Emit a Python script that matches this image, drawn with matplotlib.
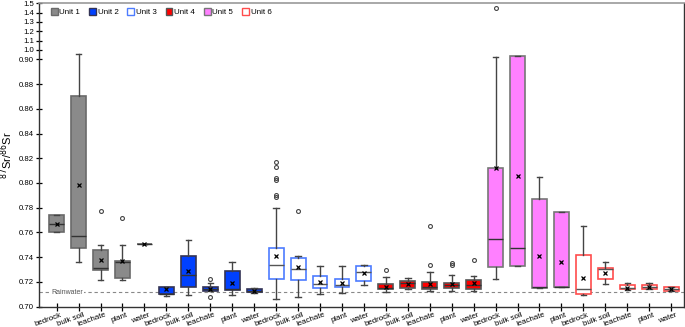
import numpy as np
import matplotlib
matplotlib.use("Agg")
import matplotlib.pyplot as plt
import matplotlib.transforms as mtransforms
from matplotlib.patches import Patch

plt.rcParams['font.family'] = ['Liberation Sans', 'DejaVu Sans']

# Data (one entry per box, left to right)
units = ['Unit 1', 'Unit 2', 'Unit 3', 'Unit 4', 'Unit 5', 'Unit 6']
unit_of_box = [0]*5 + [1]*5 + [2]*5 + [3]*5 + [4]*4 + [5]*5
labels = (['bedrock', 'bulk soil', 'leachate', 'plant', 'water'] * 4
          + ['bedrock', 'bulk soil', 'leachate', 'plant']
          + ['bedrock', 'bulk soil', 'leachate', 'plant', 'water'])

q1 = [0.7604, 0.7472, 0.7294, 0.7230, 0.7504,
      0.7103, 0.7160, 0.7127, 0.7137, 0.7121,
      0.7221, 0.7218, 0.7149, 0.7160, 0.7210,
      0.7140, 0.7149, 0.7140, 0.7149, 0.7140,
      0.7321, 0.7329, 0.7154, 0.7159,
      0.7100, 0.7224, 0.7140, 0.7143, 0.7130]
med = [0.7670, 0.7572, 0.7310, 0.7361, 0.7504,
       0.7105, 0.7254, 0.7145, 0.7143, 0.7130,
       0.7335, 0.7302, 0.7181, 0.7178, 0.7280,
       0.7149, 0.7194, 0.7162, 0.7173, 0.7178,
       0.7550, 0.7477, 0.7157, 0.7160,
       0.7143, 0.7302, 0.7155, 0.7160, 0.7143]
q3 = [0.7741, 0.8700, 0.7460, 0.7372, 0.7504,
      0.7162, 0.7407, 0.7157, 0.7286, 0.7143,
      0.7477, 0.7394, 0.7246, 0.7226, 0.7329,
      0.7186, 0.7208, 0.7197, 0.7194, 0.7216,
      0.8119, 0.9380, 0.7871, 0.7763,
      0.7415, 0.7315, 0.7173, 0.7178, 0.7162]
whislo = [0.7604, 0.7364, 0.7213, 0.7216, 0.7504,
          0.7087, 0.7095, 0.7127, 0.7095, 0.7110,
          0.7062, 0.7078, 0.7105, 0.7108, 0.7173,
          0.7119, 0.7140, 0.7130, 0.7127, 0.7124,
          0.7224, 0.7329, 0.7154, 0.7159,
          0.7097, 0.7186, 0.7138, 0.7143, 0.7130]
whishi = [0.7741, 0.9600, 0.7496, 0.7499, 0.7504,
          0.7162, 0.7537, 0.7194, 0.7364, 0.7155,
          0.7800, 0.7410, 0.7329, 0.7329, 0.7340,
          0.7240, 0.7229, 0.7278, 0.7256, 0.7251,
          0.9200, 0.9380, 0.8049, 0.7763,
          0.7655, 0.7361, 0.7189, 0.7192, 0.7162]
means = [0.7670, 0.7980, 0.7380, 0.7370, 0.7504,
         0.7140, 0.7286, 0.7140, 0.7192, 0.7130,
         0.7412, 0.7321, 0.7197, 0.7194, 0.7272,
         0.7162, 0.7184, 0.7186, 0.7184, 0.7192,
         0.8120, 0.8054, 0.7412, 0.7359,
         0.7235, 0.7272, 0.7155, 0.7158, 0.7143]
fliers = [[], [], [0.7771], [0.7720], [],
          [], [], [0.7221, 0.7078], [], [],
          [0.8168, 0.8132, 0.8043, 0.8022, 0.7905, 0.7884], [0.7776], [], [], [],
          [0.7297], [], [0.7337, 0.7652], [0.7351, 0.7335], [0.7378],
          [1.45], [], [], [],
          [], [], [], [], []]

rainwater = 0.7119

face_colors = ['#8a8a8a', '#0040ff', 'white', '#ff0000', '#ff80ff', 'white']
edge_colors = ['#6a6a6a', '#333355', '#4d7cff', '#555555', '#777777', '#ff4d4d']

# compress everything above 0.90
K = 0.0755
def fwd(y):
    y = np.asarray(y, dtype=float)
    return np.where(y <= 0.9, y, 0.9 + (y - 0.9) * K)

def inv(y):
    y = np.asarray(y, dtype=float)
    return np.where(y <= 0.9, y, 0.9 + (y - 0.9) / K)

fig = plt.figure(figsize=(6.85, 3.27), dpi=100)
ax = fig.add_axes([0.0574, 0.062, 0.941, 0.929])
ax.set_yscale('function', functions=(fwd, inv))

stats = []
for i in range(len(labels)):
    stats.append(dict(q1=q1[i], med=med[i], q3=q3[i], whislo=whislo[i],
                      whishi=whishi[i], mean=means[i], fliers=fliers[i]))

pos = np.arange(len(labels))
bp = ax.bxp(stats, positions=pos, widths=0.68, patch_artist=True, showmeans=True,
            capwidths=0.25,
            meanprops=dict(marker='x', markersize=3, markeredgecolor='black', markeredgewidth=0.9),
            flierprops=dict(marker='o', markersize=2.8, markerfacecolor='none',
                            markeredgecolor='#444444', markeredgewidth=0.8),
            whiskerprops=dict(color='#444444', linewidth=1.0),
            capprops=dict(color='#444444', linewidth=1.0),
            medianprops=dict(color='#333333', linewidth=1.0))

for i, box in enumerate(bp['boxes']):
    u = unit_of_box[i]
    box.set_facecolor(face_colors[u])
    box.set_edgecolor(edge_colors[u])
    box.set_linewidth(1.2)
    if u in (2, 5):
        bp['medians'][i].set_color('#555555')

ax.axhline(rainwater, color='#888888', linestyle=(0, (3, 2.5)), linewidth=0.8, zorder=0)
ax.text(-0.22, rainwater, 'Rainwater', fontsize=5, color='#555555', va='center', ha='left',
        bbox=dict(facecolor='white', edgecolor='none', pad=0.5))

ax.set_xlim(-0.79, 28.58)
ax.set_ylim(0.70, 1.503)

yt = [0.70, 0.72, 0.74, 0.76, 0.78, 0.80, 0.82, 0.84, 0.86, 0.88, 0.90,
      1.0, 1.1, 1.2, 1.3, 1.4, 1.5]
ylab = ['%.2f' % v if v <= 0.9 else '%.1f' % v for v in yt]
ax.set_yticks(yt)
ax.set_yticklabels(ylab)
ax.yaxis.set_minor_locator(matplotlib.ticker.NullLocator())
ax.tick_params(axis='y', direction='inout', length=5, width=0.9, labelsize=5.6, pad=1.5)

ax.set_xticks(pos)
ax.set_xticklabels(labels, rotation=20, ha='right', rotation_mode='anchor')
ax.tick_params(axis='x', direction='inout', length=6, width=0.9, labelsize=5.7, pad=0.3)
shift = mtransforms.ScaledTranslation(0.04, 0, fig.dpi_scale_trans)
for lab in ax.get_xticklabels():
    lab.set_transform(lab.get_transform() + shift)

ax.set_ylabel(r'$^{87}$Sr/$^{86}$Sr', fontsize=8)
ax.yaxis.set_label_coords(-0.037, 0.5)

for s in ['left', 'bottom', 'right']:
    ax.spines[s].set_color('#333333')
    ax.spines[s].set_linewidth(1.0)
ax.spines['top'].set_color('#999999')
ax.spines['top'].set_linewidth(1.2)

handles = [Patch(facecolor=face_colors[k], edgecolor=edge_colors[k], linewidth=1.0, label=units[k])
           for k in range(len(units))]
ax.legend(handles=handles, loc='upper left', ncol=6, frameon=False, fontsize=5.8,
          handlelength=0.86, handleheight=0.86, handletextpad=0.2, columnspacing=1.1,
          bbox_to_anchor=(0.0177, 0.983), borderaxespad=0, borderpad=0)

fig.savefig('out.png', dpi=100)
